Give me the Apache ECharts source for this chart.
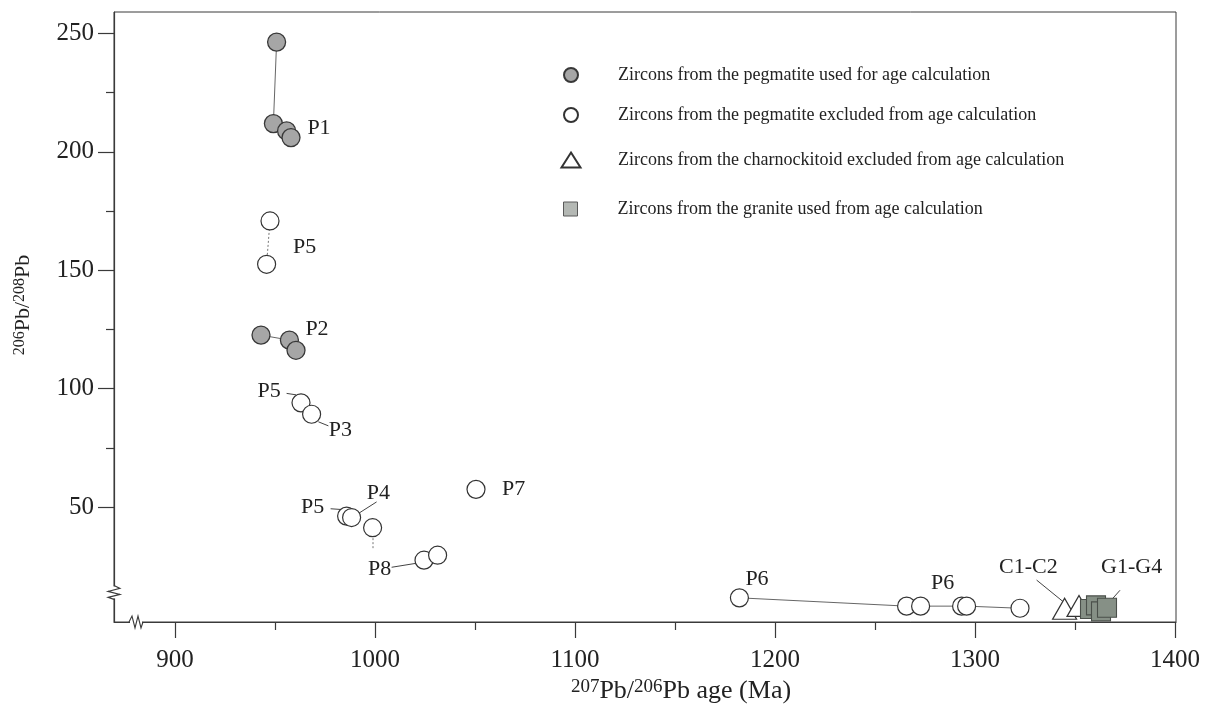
<!DOCTYPE html>
<html>
<head>
<meta charset="utf-8">
<script src="https://cdn.jsdelivr.net/npm/echarts@6/dist/echarts.min.js"></script>
<style>
  html, body { margin: 0; padding: 0; background: #ffffff; }
  #chart { width: 1210px; height: 724px; }
</style>
</head>
<body>
<div id="chart"></div>
<script>
// Axis ranges and tick values
const xRange = [869.5, 1400.5];
const yRange = [1.5, 259];
const xTicks = [900, 1000, 1100, 1200, 1300, 1400];
const xMinorTicks = [950, 1050, 1150, 1250, 1350];
const yTicks = [50, 100, 150, 200, 250];
const yMinorTicks = [75, 125, 175, 225];
const xAxisBreakAt = 880.5;
const yAxisBreakAt = 14;

// Legend / series names
const seriesNames = [
  'Zircons from the pegmatite used for age calculation',
  'Zircons from the pegmatite excluded from age calculation',
  'Zircons from the charnockitoid excluded from age calculation',
  'Zircons from the granite used from age calculation'
];

// [207Pb/206Pb age (Ma), 206Pb/208Pb]
const pegmatiteUsed = [
  [950.8, 246.3], [949.2, 211.9], [955.8, 208.8], [958.0, 206.0],
  [943.0, 122.6], [957.2, 120.5], [960.5, 116.2]
];
const pegmatiteExcluded = [
  [947.5, 170.8], [945.8, 152.5],
  [963.0, 94.0], [968.3, 89.2],
  [985.8, 46.2], [988.3, 45.6],
  [998.8, 41.3],
  [1024.5, 27.6], [1031.3, 29.7],
  [1050.5, 57.5],
  [1182.2, 11.7], [1265.8, 8.2], [1272.8, 8.2], [1293.3, 8.2], [1295.8, 8.2], [1322.5, 7.3]
];
const charnockitoidExcluded = [[1344.8, 7.1], [1352.0, 8.3]];
const graniteUsed = [[1357.5, 7.0], [1360.5, 8.5], [1363.0, 6.0], [1366.0, 7.5]];

// Tie lines between analyses of the same grain
const tieSolid = [
  [[950.8, 246.3], [949.2, 211.9]],
  [[943.0, 122.6], [957.2, 120.5]],
  [[1182.2, 11.7], [1265.8, 8.2], [1272.8, 8.2], [1293.3, 8.2], [1295.8, 8.2], [1322.5, 7.3]]
];
const tieDotted = [
  [[947.5, 170.8], [945.8, 152.5]],
  [[999.0, 36.9], [999.0, 31.8]]
];

// Grain labels and their leader lines
const grainLabels = [
  ['P1', 972.0, 210.1],
  ['P5', 964.8, 159.8],
  ['P2', 971.0, 125.0],
  ['P5', 947.1, 98.9],
  ['P3', 982.7, 82.4],
  ['P5', 968.8, 50.1],
  ['P4', 1001.7, 55.8],
  ['P8', 1002.3, 23.8],
  ['P7', 1069.3, 57.5],
  ['P6', 1191.0, 19.6],
  ['P6', 1283.8, 17.8],
  ['C1-C2', 1326.7, 24.8],
  ['G1-G4', 1378.3, 24.8]
];
const leaderLines = [
  [[955.8, 98.0], [960.5, 97.4]],
  [[971.7, 86.0], [976.7, 84.3]],
  [[977.8, 49.3], [983.0, 49.0]],
  [[1000.8, 52.2], [991.7, 47.3]],
  [[1008.3, 24.6], [1020.0, 26.2]],
  [[1330.8, 19.2], [1344.2, 10.0]],
  [[1372.5, 14.9], [1366.7, 9.4]]
];

const SERIF = '"Liberation Serif", "Times New Roman", serif';
const INK = '#222222';

const chart = echarts.init(document.getElementById('chart'), null, { renderer: 'canvas' });

function legendAt(name, top, itemW, itemH, style) {
  return {
    data: style ? [{ name: name, itemStyle: style }] : [name],
    orient: 'vertical',
    left: 570 - itemW / 2,
    top: top,
    padding: 0,
    itemWidth: itemW,
    itemHeight: itemH,
    selectedMode: false,
    textStyle: { fontFamily: SERIF, fontSize: 18, color: INK, padding: [0, 0, 0, 42 - itemW / 2] }
  };
}

const plainNumber = v => String(v);

const option = {
  backgroundColor: '#ffffff',
  animation: false,
  grid: {
    left: 114, right: 34, top: 12, bottom: 102,
    show: true, borderColor: '#3a3a3a', borderWidth: 1, backgroundColor: 'transparent'
  },
  legend: [
    legendAt(seriesNames[0], 66, 14, 14),
    legendAt(seriesNames[1], 106, 14, 14),
    legendAt(seriesNames[2], 151, 19, 15),
    legendAt(seriesNames[3], 200, 14, 14, { color: '#b4b8b4', borderColor: '#5a5a5a', borderWidth: 1 })
  ],
  xAxis: [
    {
      type: 'value', min: xRange[0], max: xRange[1], position: 'bottom',
      name: '{sup|207}{base|Pb/}{sup|206}{base|Pb age (Ma)}',
      nameLocation: 'middle', nameGap: 56,
      nameTextStyle: {
        padding: [0, 0, 0, 72],
        rich: {
          base: { fontFamily: SERIF, fontSize: 26, color: INK, verticalAlign: 'bottom' },
          sup: { fontFamily: SERIF, fontSize: 19, color: INK, verticalAlign: 'top' }
        }
      },
      axisLine: { show: true, lineStyle: { color: '#3a3a3a', width: 1.2 } },
      axisTick: { show: true, customValues: xTicks, length: 16, lineStyle: { color: '#3a3a3a', width: 1.2 } },
      axisLabel: { show: true, customValues: xTicks, formatter: plainNumber, margin: 26, fontFamily: SERIF, fontSize: 25, color: INK },
      splitLine: { show: false }
    },
    {
      type: 'value', min: xRange[0], max: xRange[1], position: 'bottom',
      axisLine: { show: false },
      axisTick: { show: true, customValues: xMinorTicks, length: 8, lineStyle: { color: '#3a3a3a', width: 1.2 } },
      axisLabel: { show: false },
      splitLine: { show: false }
    }
  ],
  yAxis: [
    {
      type: 'value', min: yRange[0], max: yRange[1], position: 'left',
      name: '{sup|206}{base|Pb/}{sup|208}{base|Pb}',
      nameLocation: 'middle', nameGap: 80, nameRotate: 90,
      nameTextStyle: {
        padding: [0, 0, 0, 24],
        rich: {
          base: { fontFamily: SERIF, fontSize: 22, color: INK, verticalAlign: 'bottom' },
          sup: { fontFamily: SERIF, fontSize: 16, color: INK, verticalAlign: 'top' }
        }
      },
      axisLine: { show: true, lineStyle: { color: '#3a3a3a', width: 1.2 } },
      axisTick: { show: true, customValues: yTicks, length: 16, lineStyle: { color: '#3a3a3a', width: 1.2 } },
      axisLabel: { show: true, customValues: yTicks, formatter: plainNumber, margin: 20, fontFamily: SERIF, fontSize: 25, color: INK },
      splitLine: { show: false }
    },
    {
      type: 'value', min: yRange[0], max: yRange[1], position: 'left',
      axisLine: { show: false },
      axisTick: { show: true, customValues: yMinorTicks, length: 8, lineStyle: { color: '#3a3a3a', width: 1.2 } },
      axisLabel: { show: false },
      splitLine: { show: false }
    }
  ],
  series: [
    {
      type: 'lines', coordinateSystem: 'cartesian2d', polyline: true, silent: true, z: 1,
      lineStyle: { color: '#555', width: 0.9, type: 'solid', opacity: 1 },
      data: tieSolid.map(c => ({ coords: c }))
    },
    {
      type: 'lines', coordinateSystem: 'cartesian2d', polyline: true, silent: true, z: 1,
      lineStyle: { color: '#777', width: 1, type: [2, 2], opacity: 1 },
      data: tieDotted.map(c => ({ coords: c }))
    },
    {
      type: 'lines', coordinateSystem: 'cartesian2d', polyline: false, silent: true, z: 1,
      lineStyle: { color: '#444', width: 1, type: 'solid', opacity: 1 },
      data: leaderLines.map(c => ({ coords: c }))
    },
    {
      name: seriesNames[0], type: 'scatter', symbol: 'circle', symbolSize: 18, z: 3,
      itemStyle: { color: '#a6a6a6', borderColor: '#383838', borderWidth: 1.3, opacity: 1 },
      data: pegmatiteUsed
    },
    {
      name: seriesNames[1], type: 'scatter', symbol: 'circle', symbolSize: 18, z: 3,
      itemStyle: { color: '#ffffff', borderColor: '#333333', borderWidth: 1.2, opacity: 1 },
      data: pegmatiteExcluded
    },
    {
      name: seriesNames[2], type: 'scatter', symbol: 'triangle', symbolSize: [24, 21], z: 3,
      itemStyle: { color: '#ffffff', borderColor: '#333333', borderWidth: 1.2, opacity: 1 },
      data: charnockitoidExcluded
    },
    {
      name: seriesNames[3], type: 'scatter', symbol: 'rect', symbolSize: 19, z: 3,
      itemStyle: { color: '#869086', borderColor: '#4a4f4a', borderWidth: 1.1, opacity: 1 },
      data: graniteUsed
    },
    {
      type: 'scatter', symbolSize: 1, silent: true, z: 4,
      itemStyle: { color: 'rgba(255,255,255,0)' },
      label: {
        show: true, position: 'inside', formatter: p => p.name,
        fontFamily: SERIF, fontSize: 22, color: INK,
        textBorderWidth: 0, textShadowBlur: 0, opacity: 1
      },
      data: grainLabels.map(d => ({ name: d[0], value: [d[1], d[2]] }))
    }
  ]
};

chart.setOption(option);

// Axis break symbols, placed from axis values
const yb = chart.convertToPixel({ gridIndex: 0 }, [xRange[0], yAxisBreakAt]);
const xb = chart.convertToPixel({ gridIndex: 0 }, [xAxisBreakAt, yRange[0]]);
chart.setOption({
  graphic: [
    { type: 'rect', shape: { x: yb[0] - 2, y: yb[1] - 6, width: 4, height: 12 }, style: { fill: '#fff' }, z: 100 },
    {
      type: 'polyline', z: 101,
      shape: { points: [[yb[0], yb[1] - 7], [yb[0] + 6, yb[1] - 4], [yb[0] - 6, yb[1] - 1], [yb[0] + 6, yb[1] + 2], [yb[0] - 6, yb[1] + 5], [yb[0], yb[1] + 7]] },
      style: { stroke: '#3a3a3a', lineWidth: 1.1, fill: null }
    },
    { type: 'rect', shape: { x: xb[0] - 6, y: xb[1] - 2, width: 12, height: 4 }, style: { fill: '#fff' }, z: 100 },
    {
      type: 'polyline', z: 101,
      shape: { points: [[xb[0] - 7, xb[1]], [xb[0] - 4, xb[1] - 6], [xb[0] - 1, xb[1] + 6], [xb[0] + 2, xb[1] - 6], [xb[0] + 5, xb[1] + 6], [xb[0] + 7, xb[1]]] },
      style: { stroke: '#3a3a3a', lineWidth: 1.1, fill: null }
    }
  ]
});
</script>
</body>
</html>
